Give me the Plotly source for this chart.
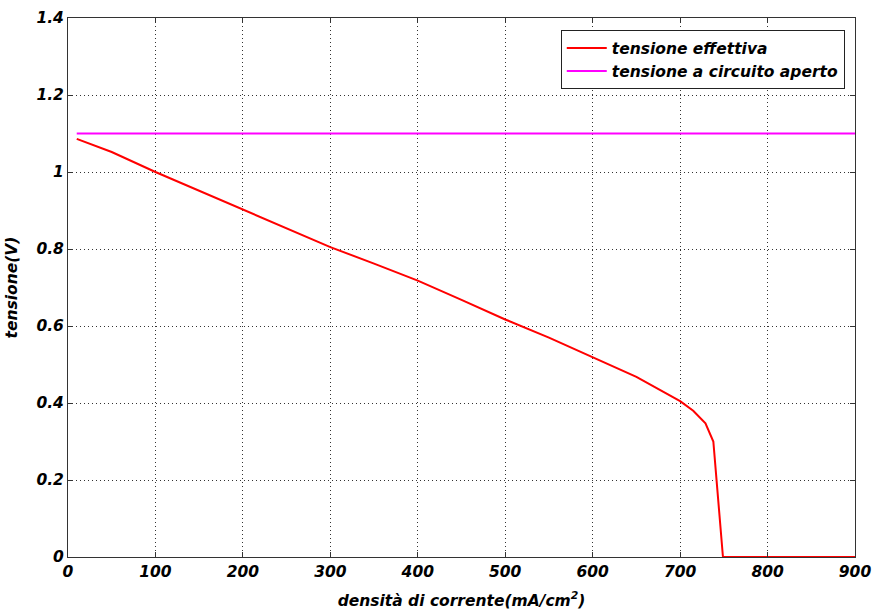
import plotly.graph_objects as go

# Polarisation curve: current density (mA/cm^2) vs. cell voltage (V)
current_density = [10, 30, 50, 100, 150, 200, 250, 300, 350, 400, 450, 500,
                   550, 600, 650, 700, 715, 729, 738, 749, 800, 900]
cell_voltage = [1.086, 1.068, 1.052, 1.000, 0.951, 0.902, 0.853, 0.805, 0.762,
                0.718, 0.668, 0.617, 0.570, 0.519, 0.468, 0.405, 0.380, 0.347,
                0.300, 0.0, 0.0, 0.0]

# Open-circuit voltage, constant over the whole range
ocv_x = [10, 900]
ocv_y = [1.1, 1.1]

x_ticks = [0, 100, 200, 300, 400, 500, 600, 700, 800, 900]
y_ticks = [0, 0.2, 0.4, 0.6, 0.8, 1.0, 1.2, 1.4]
y_tick_text = ["0", "0.2", "0.4", "0.6", "0.8", "1", "1.2", "1.4"]

font_bi = dict(family="DejaVu Sans", size=15.5, color="black",
               weight="bold", style="italic")

fig = go.Figure()
fig.add_trace(go.Scatter(x=current_density, y=cell_voltage, mode="lines",
                         name="tensione effettiva",
                         line=dict(color="#ff0000", width=2)))
fig.add_trace(go.Scatter(x=ocv_x, y=ocv_y, mode="lines",
                         name="tensione a circuito aperto",
                         line=dict(color="#ff00ff", width=2)))

axis_common = dict(
    showline=True, linecolor="#333333", linewidth=1, mirror="ticks",
    ticks="inside", ticklen=5, tickcolor="#333333",
    showgrid=True, gridcolor="#333333", griddash="1px,3px", gridwidth=1,
    zeroline=False, tickfont=font_bi, automargin=False,
)

fig.update_layout(
    width=873, height=610,
    margin=dict(l=68, r=18, t=18, b=53),
    paper_bgcolor="white", plot_bgcolor="white",
    showlegend=True,
    legend=dict(x=0.987, y=0.977, xanchor="right", yanchor="top",
                bgcolor="white", bordercolor="#222222", borderwidth=1,
                font=font_bi, tracegroupgap=0, itemwidth=40),
    xaxis=dict(range=[0, 900], tickvals=x_ticks,
               title=dict(text="densità di corrente(mA/cm<sup>2</sup>)",
                          font=font_bi),
               **axis_common),
    yaxis=dict(range=[0, 1.4], tickvals=y_ticks, ticktext=y_tick_text,
               title=dict(text="tensione(V)", font=font_bi),
               **axis_common),
)

fig.write_html("out.html")
